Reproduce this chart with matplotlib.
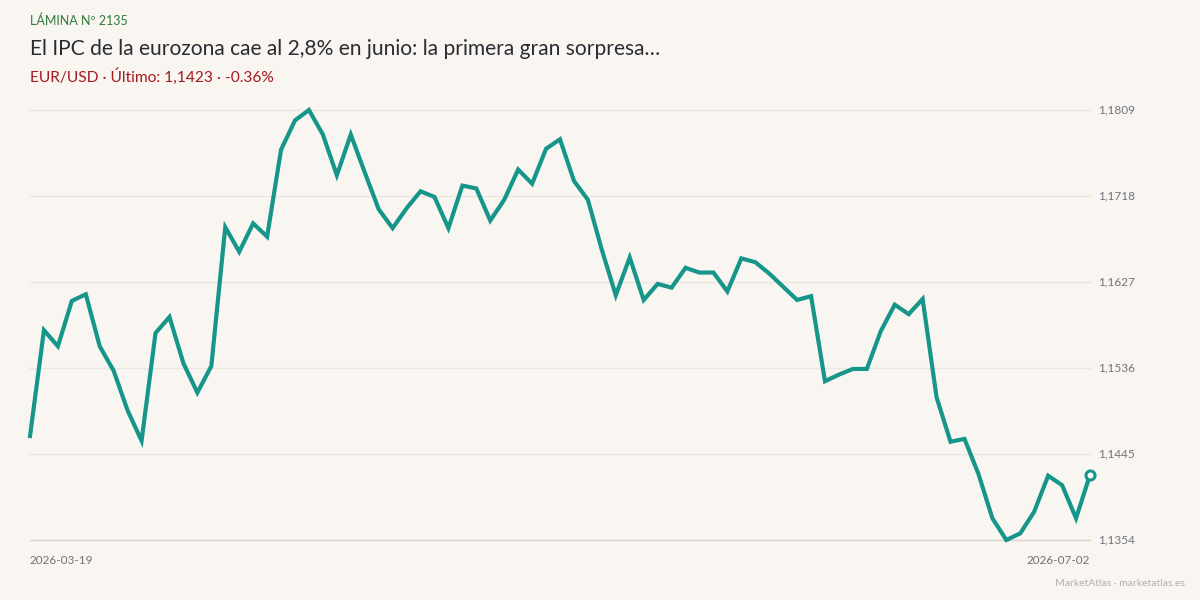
import numpy as np
import matplotlib
matplotlib.use("Agg")
import matplotlib.pyplot as plt

plt.rcParams['font.family'] = ['Lato', 'DejaVu Sans']

# EUR/USD closes, oldest first
eurusd = [
    1.1464, 1.1576, 1.1559, 1.1607, 1.1614, 1.1559, 1.1533, 1.1491, 1.1459, 1.1573,
    1.1590, 1.1541, 1.1510, 1.1538, 1.1685, 1.1659, 1.1689, 1.1675, 1.1767, 1.1798,
    1.1809, 1.1783, 1.1740, 1.1783, 1.1743, 1.1704, 1.1684, 1.1705, 1.1723, 1.1717,
    1.1684, 1.1729, 1.1726, 1.1692, 1.1714, 1.1746, 1.1731, 1.1768, 1.1778, 1.1734,
    1.1714, 1.1661, 1.1613, 1.1653, 1.1608, 1.1625, 1.1621, 1.1642, 1.1637, 1.1637,
    1.1617, 1.1652, 1.1648, 1.1636, 1.1622, 1.1608, 1.1612, 1.1522, 1.1529, 1.1535,
    1.1535, 1.1575, 1.1603, 1.1593, 1.1609, 1.1505, 1.1458, 1.1461, 1.1424, 1.1377,
    1.1354, 1.1361, 1.1384, 1.1422, 1.1412, 1.1377, 1.1423,
]
first_date = "2026-03-19"
last_date = "2026-07-02"

kicker = "LÁMINA Nº 2135"
title = "El IPC de la eurozona cae al 2,8% en junio: la primera gran sorpresa…"
subtitle = "EUR/USD · Último: 1,1423 · -0.36%"
footer = "MarketAtlas · marketatlas.es"

BG = "#f9f6f1"
TEAL = "#16968a"
GRID = "#ebe6df"
TICK = "#70727c"

y = np.array(eurusd)
x = np.arange(len(y))
lo, hi = y.min(), y.max()
ticks = np.linspace(lo, hi, 6)

fig = plt.figure(figsize=(12, 6), dpi=100, facecolor=BG)
ax = fig.add_axes([30 / 1200, 60 / 600, 1060 / 1200, 430 / 600])
ax.set_facecolor(BG)

for i, t in enumerate(ticks):
    ax.axhline(t, color="#d8d3cb" if i == 0 else GRID, lw=1.0, zorder=1, clip_on=False)
    ax.text(1.0075, t, f"{t:.4f}".replace(".", ","), transform=ax.get_yaxis_transform(),
            ha="left", va="center", fontsize=8.5, color=TICK)

ax.plot(x, y, color=TEAL, lw=3.0, solid_joinstyle="miter", zorder=3, clip_on=False)
ax.plot(x[-1], y[-1], "o", ms=6.5, mfc="white", mec=TEAL, mew=2.2, zorder=4, clip_on=False)

ax.set_xlim(0, len(y) - 1)
ax.set_ylim(lo, hi)
ax.set_xticks([])
ax.set_yticks([])
for s in ax.spines.values():
    s.set_visible(False)

ax.text(0, -0.035, first_date, transform=ax.transAxes, ha="left", va="top",
        fontsize=8.5, color=TICK)
ax.text(1, -0.035, last_date, transform=ax.transAxes, ha="right", va="top",
        fontsize=8.5, color=TICK)

fig.text(30 / 1200, 1 - 21 / 600, kicker, ha="left", va="center", fontsize=9.0, color="#2f7a3a")
fig.text(30 / 1200, 1 - 49 / 600, title, ha="left", va="center", fontsize=15.1, color="#2b2b33")
fig.text(30 / 1200, 1 - 77 / 600, subtitle, ha="left", va="center", fontsize=11.2, color="#a5191f")
fig.text(1185 / 1200, 1 - 583 / 600, footer, ha="right", va="center", fontsize=7.5, color="#b3b0ab")

fig.savefig("out.png", dpi=100, facecolor=BG)
